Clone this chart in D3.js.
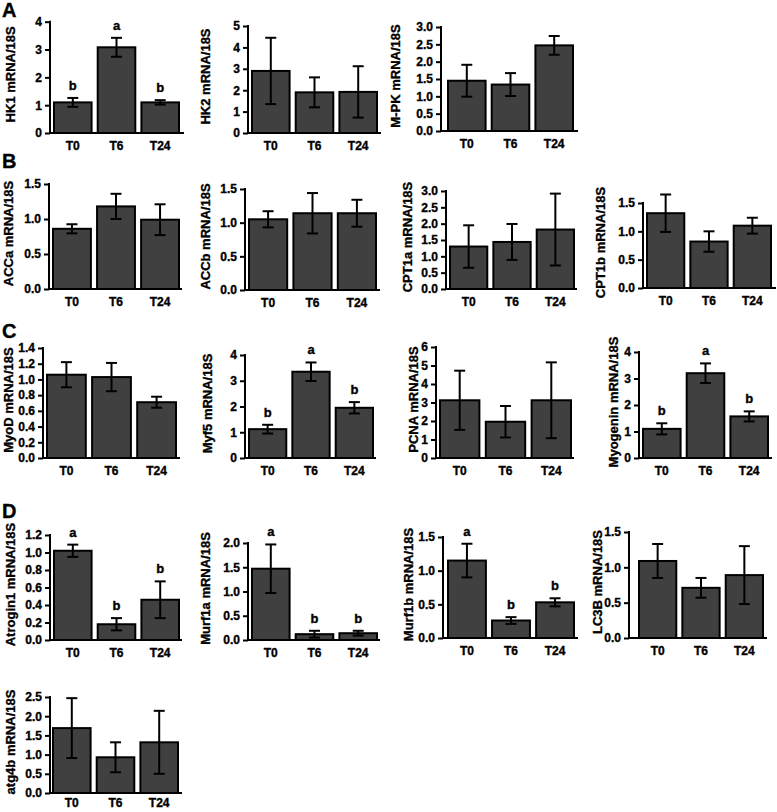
<!DOCTYPE html>
<html><head><meta charset="utf-8">
<script src="https://cdn.jsdelivr.net/npm/d3@7"></script>
<style>
body{margin:0;background:#fff}
text{font-family:Arial,"Liberation Sans",Helvetica,sans-serif;font-weight:bold;fill:#000;stroke:#000;stroke-width:0.35px}
</style>
</head><body>
<svg id="chart" width="777" height="812"></svg>
<script>
// ---------------- DATA ----------------
const categories = ["T0", "T6", "T24"];
const genes = ["HK1","HK2","M-PK","ACCa","ACCb","CPT1a","CPT1b","MyoD","Myf5","PCNA","Myogenin","Atrogin1","Murf1a","Murf1b","LC3B","atg4b"];
const meanValues = [
  [1.10, 3.08, 1.10],
  [2.90, 1.90, 1.92],
  [1.45, 1.34, 2.47],
  [0.86, 1.18, 0.99],
  [1.05, 1.14, 1.14],
  [1.30, 1.44, 1.82],
  [1.32, 0.82, 1.10],
  [1.06, 1.03, 0.71],
  [1.12, 3.35, 1.95],
  [3.12, 1.96, 3.12],
  [1.10, 3.20, 1.57],
  [1.02, 0.18, 0.46],
  [1.47, 0.12, 0.14],
  [1.15, 0.26, 0.53],
  [1.09, 0.71, 0.89],
  [1.69, 0.93, 1.32]
];
const errorValues = [
  [0.16, 0.34, 0.08],
  [1.55, 0.70, 1.20],
  [0.46, 0.33, 0.27],
  [0.065, 0.18, 0.22],
  [0.12, 0.30, 0.20],
  [0.65, 0.55, 1.10],
  [0.33, 0.18, 0.14],
  [0.16, 0.18, 0.07],
  [0.17, 0.36, 0.22],
  [1.60, 0.85, 2.05],
  [0.21, 0.37, 0.19],
  [0.07, 0.07, 0.21],
  [0.50, 0.07, 0.05],
  [0.25, 0.05, 0.06],
  [0.24, 0.14, 0.41],
  [0.78, 0.39, 0.82]
];
const sigLetters = [
  ["b","a","b"], null, null,
  null, null, null, null,
  null, ["b","a","b"], null, ["b","a","b"],
  ["a","b","b"], ["a","b","b"], ["a","b","b"], null,
  null
];
const yMaxValues = [4, 5, 3, 1.5, 1.5, 3, 1.5, 1.4, 4, 6, 4, 1.2, 2, 1.5, 1.5, 2.5];
const yTickSteps = [1, 1, 0.5, 0.5, 0.5, 0.5, 0.5, 0.2, 1, 1, 1, 0.2, 0.5, 0.5, 0.5, 0.5];
const panelLetters = ["A", "B", "C", "D"];

// ---------------- LAYOUT ----------------
const layout = [
  {x0:50, bx0:54, bx1:179, x1:184, yT:21.7, y0:133, lx:10, xp:8},
  {x0:248, bx0:252, bx1:377, x1:381, yT:26, y0:133, lx:205, xp:8},
  {x0:441, bx0:448, bx1:573, x1:578, yT:27, y0:131, lx:395, xp:8},
  {x0:49, bx0:53, bx1:179, x1:182, yT:184, y0:289, lx:8, xp:8},
  {x0:245, bx0:249, bx1:376, x1:380, yT:189, y0:290, lx:205, xp:8},
  {x0:446, bx0:450, bx1:574, x1:577, yT:191, y0:289, lx:407, xp:8},
  {x0:643, bx0:647, bx1:771, x1:776, yT:203, y0:288, lx:600, xp:8},
  {x0:43, bx0:47, bx1:176, x1:180, yT:348, y0:458, lx:8, xp:8},
  {x0:245, bx0:249, bx1:373, x1:376, yT:355, y0:458, lx:207, xp:8},
  {x0:436, bx0:440, bx1:571, x1:574, yT:347, y0:458, lx:413, xp:8},
  {x0:639, bx0:643, bx1:768, x1:772, yT:352, y0:458, lx:613, xp:8},
  {x0:50, bx0:54, bx1:179, x1:182, yT:535, y0:640, lx:10, xp:8},
  {x0:248, bx0:252, bx1:377, x1:380, yT:543, y0:640, lx:205, xp:8},
  {x0:443, bx0:448, bx1:574, x1:578, yT:537, y0:638, lx:408, xp:8},
  {x0:629, bx0:639, bx1:763, x1:767, yT:532, y0:638, lx:597, xp:8},
  {x0:50, bx0:53, bx1:178, x1:182, yT:697, y0:793, lx:10, xp:5}
];
const letterPos = [{x:2, y:17}, {x:2, y:168}, {x:2, y:338}, {x:2, y:518}];

const svg = d3.select("#chart");
const BAR_FILL = "#404040";

genes.forEach((gene, i) => {
  const L = layout[i];
  const g = svg.append("g");
  const y = d3.scaleLinear().domain([0, yMaxValues[i]]).range([L.y0, L.yT]);
  const x = d3.scaleBand().domain(categories).range([L.bx0, L.bx1]).paddingInner(0.14).paddingOuter(0);
  const step = yTickSteps[i];
  const nT = Math.round(yMaxValues[i] / step);
  const ticks = d3.range(nT + 1).map(k => +(k * step).toFixed(3));
  const fmt = step >= 1 ? d3.format("d") : d3.format(".1f");

  // y axis
  const ya = g.append("g").attr("transform", `translate(${L.x0},0)`)
    .call(d3.axisLeft(y).tickValues(ticks).tickFormat(fmt).tickSize(5).tickPadding(3));
  ya.select(".domain").remove();
  ya.selectAll(".tick line").attr("stroke", "#000").attr("stroke-width", 2);
  ya.selectAll(".tick text").attr("font-size", 12).attr("font-family", "Arial, 'Liberation Sans', sans-serif").attr("font-weight", "bold").attr("fill", "#000");

  // bars
  g.selectAll("rect.bar").data(meanValues[i]).enter().append("rect")
    .attr("x", (d, j) => x(categories[j]))
    .attr("y", d => y(d))
    .attr("width", x.bandwidth())
    .attr("height", d => L.y0 - y(d))
    .attr("fill", BAR_FILL).attr("stroke", "#000").attr("stroke-width", 2);

  // error bars
  meanValues[i].forEach((m, j) => {
    const e = errorValues[i][j];
    const cx = x(categories[j]) + x.bandwidth() / 2;
    const yHi = y(m + e), yLo = y(m - e);
    g.append("line").attr("x1", cx).attr("x2", cx).attr("y1", yHi).attr("y2", yLo).attr("stroke", "#000").attr("stroke-width", 2);
    [yHi, yLo].forEach(yy => g.append("line").attr("x1", cx - 5.5).attr("x2", cx + 5.5).attr("y1", yy).attr("y2", yy).attr("stroke", "#000").attr("stroke-width", 2));
    if (sigLetters[i]) {
      g.append("text").attr("x", cx).attr("y", yHi - 8).attr("text-anchor", "middle").attr("font-size", 13).text(sigLetters[i][j]);
    }
  });

  // axis lines
  g.append("line").attr("x1", L.x0).attr("x2", L.x0).attr("y1", L.yT - 1).attr("y2", L.y0 + 1).attr("stroke", "#000").attr("stroke-width", 2);
  g.append("line").attr("x1", L.x0 - 1).attr("x2", L.x1).attr("y1", L.y0).attr("y2", L.y0).attr("stroke", "#000").attr("stroke-width", 2);

  // x axis labels
  const xa = g.append("g").attr("transform", `translate(0,${L.y0})`)
    .call(d3.axisBottom(x).tickSize(0).tickPadding(L.xp));
  xa.select(".domain").remove();
  xa.selectAll(".tick text").attr("font-size", 12).attr("font-family", "Arial, 'Liberation Sans', sans-serif").attr("font-weight", "bold").attr("fill", "#000");

  // y label
  const ym = (L.yT + L.y0) / 2 - 3;
  g.append("text").attr("transform", `translate(${L.lx},${ym}) rotate(-90)`)
    .attr("text-anchor", "middle").attr("dy", "0.35em").attr("font-size", 13)
    .text(gene + " mRNA/18S");
});

panelLetters.forEach((t, k) => {
  svg.append("text").attr("x", letterPos[k].x).attr("y", letterPos[k].y).attr("font-size", 20).text(t);
});
</script>
</body></html>
